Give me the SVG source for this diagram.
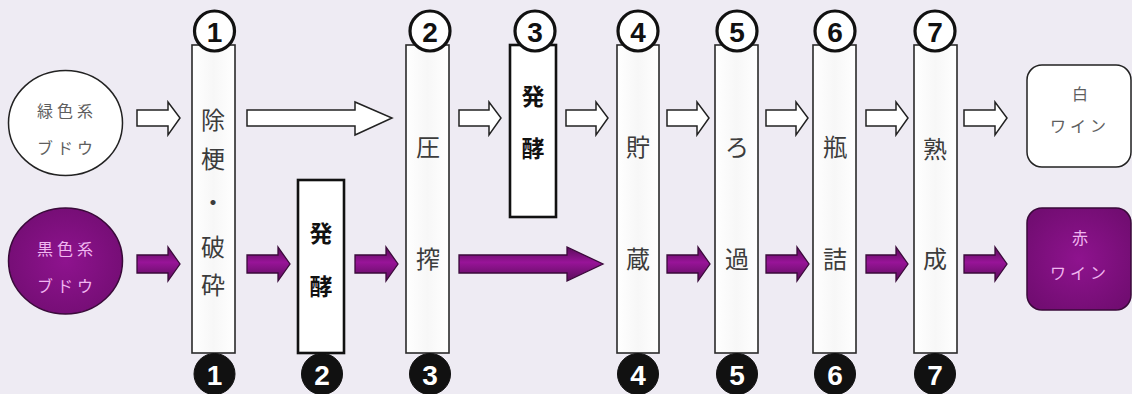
<svg xmlns="http://www.w3.org/2000/svg" width="1132" height="394" viewBox="0 0 1132 394">
<defs>
<style>
.bar{fill:url(#barg);stroke:#2a2a2a;stroke-width:1.6}
.box{fill:#ffffff;stroke:#111;stroke-width:2.6}
.t{font-family:"Noto Sans CJK JP","Noto Sans CJK SC",sans-serif;font-size:24px;fill:#3c3c3c;text-anchor:middle;dominant-baseline:central;font-weight:400}
.tb{font-family:"Noto Sans CJK JP","Noto Sans CJK SC",sans-serif;font-size:23px;fill:#111;text-anchor:middle;dominant-baseline:central;font-weight:700}
.sm{font-family:"Noto Sans CJK JP","Noto Sans CJK SC",sans-serif;font-size:16px;fill:#5e5e5e;text-anchor:middle;dominant-baseline:central;letter-spacing:4px;font-weight:400}
.smp{font-family:"Noto Sans CJK JP","Noto Sans CJK SC",sans-serif;font-size:16px;fill:#f0b6f0;text-anchor:middle;dominant-baseline:central;letter-spacing:4px;font-weight:400}
.ct{fill:#fff;stroke:#111;stroke-width:3.2}
.cb{fill:#111;stroke:#111;stroke-width:1}
.nt{font-family:"Liberation Sans",Arial,sans-serif;font-size:28px;font-weight:700;fill:#111;text-anchor:middle;dominant-baseline:central}
.nb{font-family:"Liberation Sans",Arial,sans-serif;font-size:28px;font-weight:700;fill:#fff;text-anchor:middle;dominant-baseline:central}
.wa{fill:#fff;stroke:#222;stroke-width:1.5;stroke-linejoin:miter}
.pa{fill:url(#purg);stroke:#3a0a3a;stroke-width:1.3;stroke-linejoin:miter}
</style>
<linearGradient id="barg" x1="0" y1="0" x2="1" y2="0">
<stop offset="0" stop-color="#ffffff"/>
<stop offset="0.5" stop-color="#f7f7f7"/>
<stop offset="1" stop-color="#ffffff"/>
</linearGradient>
<linearGradient id="purg" x1="0" y1="0" x2="0" y2="1">
<stop offset="0" stop-color="#5a0c5a"/>
<stop offset="0.45" stop-color="#981498"/>
<stop offset="1" stop-color="#5a0c5a"/>
</linearGradient>
<radialGradient id="purr" cx="0.5" cy="0.5" r="0.6">
<stop offset="0" stop-color="#8e138e"/>
<stop offset="1" stop-color="#720d72"/>
</radialGradient>
</defs>
<rect width="1132" height="394" fill="#eeebf3"/>

<g id="connectors">
<path class="wa" d="M137,110 H168 V102 L180,118 L168,135 V126 H137 Z"/>
<path class="wa" d="M247,110 H355 V102 L392,118 L355,135 V126 H247 Z"/>
<path class="wa" d="M459,110 H489 V102 L501,118 L489,135 V126 H459 Z"/>
<path class="wa" d="M566,110 H596 V102 L608,118 L596,135 V126 H566 Z"/>
<path class="wa" d="M667,110 H697 V102 L709,118 L697,135 V126 H667 Z"/>
<path class="wa" d="M766,110 H796 V102 L808,118 L796,135 V126 H766 Z"/>
<path class="wa" d="M866,110 H896 V102 L908,118 L896,135 V126 H866 Z"/>
<path class="wa" d="M964,110 H995 V102 L1007,118 L995,135 V126 H964 Z"/>
<path class="pa" d="M137,255 H168 V247 L180,264 L168,281 V273 H137 Z"/>
<path class="pa" d="M247,255 H278 V247 L290,264 L278,281 V273 H247 Z"/>
<path class="pa" d="M355,255 H386 V247 L398,264 L386,281 V273 H355 Z"/>
<path class="pa" d="M459,255 H567 V247 L603,264 L567,281 V273 H459 Z"/>
<path class="pa" d="M667,255 H698 V247 L710,264 L698,281 V273 H667 Z"/>
<path class="pa" d="M766,255 H797 V247 L809,264 L797,281 V273 H766 Z"/>
<path class="pa" d="M866,255 H896 V247 L908,264 L896,281 V273 H866 Z"/>
<path class="pa" d="M964,255 H995 V247 L1007,264 L995,281 V273 H964 Z"/>
</g>

<g id="white-grape">
<ellipse cx="65.5" cy="123" rx="57" ry="52.5" fill="#fff" stroke="#222" stroke-width="1.5"/>
<text class="sm" x="67" y="110">緑色系</text>
<text class="sm" x="67" y="147">ブドウ</text>
</g>
<g id="black-grape">
<ellipse cx="65.5" cy="261" rx="57" ry="53" fill="url(#purr)" stroke="#3a0a3a" stroke-width="1.5"/>
<text class="smp" x="67" y="248">黒色系</text>
<text class="smp" x="67" y="285">ブドウ</text>
</g>

<g id="step1">
<rect class="bar" x="192" y="45" width="43" height="308"/>
<text class="t" x="213" y="118">除</text>
<text class="t" x="213" y="157">梗</text>
<text class="t" x="213" y="200">・</text>
<text class="t" x="213" y="245">破</text>
<text class="t" x="213" y="283">砕</text>
<circle class="ct" cx="214.5" cy="31" r="20"/>
<text class="nt" x="214.5" y="32">1</text>
<circle class="cb" cx="214.5" cy="374" r="20.5"/>
<text class="nb" x="214.5" y="375">1</text>
</g>

<g id="ferment-red">
<rect class="box" x="298" y="180" width="46" height="173"/>
<text class="tb" x="321" y="232">発</text>
<text class="tb" x="321" y="285">酵</text>
<circle class="cb" cx="322" cy="374" r="20.5"/>
<text class="nb" x="322" y="375">2</text>
</g>

<g id="step-press">
<rect class="bar" x="406" y="45" width="43" height="308"/>
<text class="t" x="428" y="145">圧</text>
<text class="t" x="428" y="257">搾</text>
<circle class="ct" cx="430" cy="31" r="20"/>
<text class="nt" x="430" y="32">2</text>
<circle class="cb" cx="430" cy="374" r="20.5"/>
<text class="nb" x="430" y="375">3</text>
</g>

<g id="ferment-white">
<rect class="box" x="510" y="45" width="46" height="172"/>
<text class="tb" x="533" y="95">発</text>
<text class="tb" x="533" y="147">酵</text>
<circle class="ct" cx="535" cy="31" r="20"/>
<text class="nt" x="535" y="32">3</text>
</g>

<g id="step-storage">
<rect class="bar" x="617" y="45" width="42" height="308"/>
<text class="t" x="638" y="145">貯</text>
<text class="t" x="638" y="257">蔵</text>
<circle class="ct" cx="638" cy="31" r="20"/>
<text class="nt" x="638" y="32">4</text>
<circle class="cb" cx="638" cy="374" r="20.5"/>
<text class="nb" x="638" y="375">4</text>
</g>

<g id="step-filter">
<rect class="bar" x="715" y="45" width="43" height="308"/>
<text class="t" x="737" y="145">ろ</text>
<text class="t" x="737" y="257">過</text>
<circle class="ct" cx="737" cy="31" r="20"/>
<text class="nt" x="737" y="32">5</text>
<circle class="cb" cx="737" cy="374" r="20.5"/>
<text class="nb" x="737" y="375">5</text>
</g>

<g id="step-bottling">
<rect class="bar" x="813" y="45" width="43" height="308"/>
<text class="t" x="835" y="145">瓶</text>
<text class="t" x="835" y="257">詰</text>
<circle class="ct" cx="835" cy="31" r="20"/>
<text class="nt" x="835" y="32">6</text>
<circle class="cb" cx="835" cy="374" r="20.5"/>
<text class="nb" x="835" y="375">6</text>
</g>

<g id="step-aging">
<rect class="bar" x="914" y="45" width="43" height="308"/>
<text class="t" x="935" y="147">熟</text>
<text class="t" x="935" y="257">成</text>
<circle class="ct" cx="935" cy="31" r="20"/>
<text class="nt" x="935" y="32">7</text>
<circle class="cb" cx="935" cy="374" r="20.5"/>
<text class="nb" x="935" y="375">7</text>
</g>

<g id="white-wine">
<rect x="1027" y="65" width="104" height="102" rx="15" fill="#fff" stroke="#222" stroke-width="1.5"/>
<text class="sm" x="1082" y="93">白</text>
<text class="sm" x="1080" y="125">ワイン</text>
</g>
<g id="red-wine">
<rect x="1027" y="208" width="104" height="102" rx="15" fill="url(#purr)" stroke="#3a0a3a" stroke-width="1.5"/>
<text class="smp" x="1082" y="237">赤</text>
<text class="smp" x="1080" y="272">ワイン</text>
</g>
</svg>
